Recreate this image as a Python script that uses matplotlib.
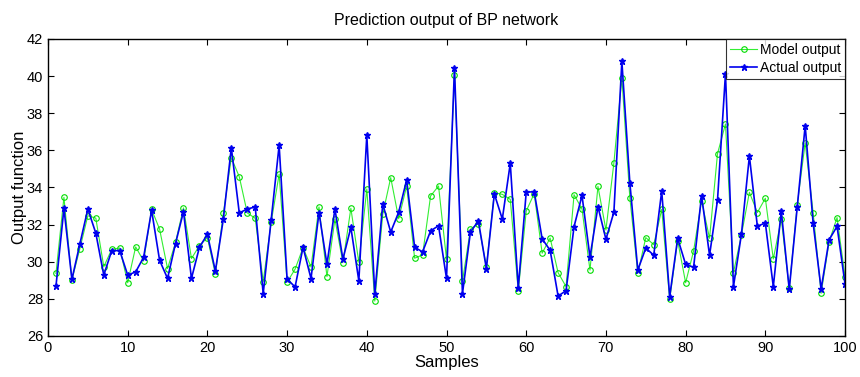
import numpy as np
import matplotlib.pyplot as plt

plt.rcParams['font.family'] = ['Liberation Sans', 'DejaVu Sans']

samples = np.arange(1, 101)

model_output = [
    29.37, 33.47, 29.02, 30.71, 32.48, 32.35, 29.73, 30.67, 30.74, 28.87,
    30.80, 30.04, 32.82, 31.76, 29.63, 31.04, 32.90, 30.17, 30.87, 31.30,
    29.33, 32.60, 35.60, 34.58, 32.63, 32.34, 28.93, 32.12, 34.72, 28.90,
    29.60, 30.76, 29.72, 32.95, 29.20, 32.30, 29.95, 32.88, 29.97, 33.92,
    27.88, 32.56, 34.53, 32.32, 34.08, 30.19, 30.37, 33.54, 34.08, 30.13,
    40.04, 28.95, 31.75, 32.05, 29.73, 33.72, 33.63, 33.36, 28.42, 32.73,
    33.67, 30.46, 31.28, 29.41, 28.66, 33.61, 32.84, 29.55, 34.06, 31.71,
    35.32, 39.91, 33.45, 29.37, 31.30, 30.92, 32.82, 27.97, 31.14, 28.87,
    30.58, 33.29, 31.26, 35.82, 37.42, 29.41, 31.44, 33.74, 32.65, 33.42,
    30.15, 32.30, 28.56, 33.06, 36.41, 32.63, 28.30, 31.07, 32.38, 29.18,
]

actual_output = [
    28.68, 32.87, 29.05, 30.96, 32.84, 31.54, 29.28, 30.60, 30.60, 29.28,
    29.45, 30.24, 32.77, 30.08, 29.10, 30.98, 32.70, 29.10, 30.78, 31.48,
    29.50, 32.30, 36.14, 32.63, 32.84, 32.95, 28.28, 32.25, 36.27, 29.07,
    28.64, 30.78, 29.09, 32.65, 29.86, 32.84, 30.13, 31.85, 28.97, 36.81,
    28.26, 33.11, 31.60, 32.67, 34.40, 30.78, 30.53, 31.66, 31.94, 29.10,
    40.44, 28.28, 31.60, 32.20, 29.63, 33.65, 32.30, 35.30, 28.60, 33.74,
    33.78, 31.23, 30.62, 28.15, 28.44, 31.89, 33.57, 30.24, 32.97, 31.21,
    32.67, 40.79, 34.26, 29.55, 30.74, 30.35, 33.81, 28.12, 31.26, 29.86,
    29.70, 33.56, 30.35, 33.32, 40.13, 28.66, 31.48, 35.69, 31.91, 32.09,
    28.66, 32.73, 28.51, 32.93, 37.33, 32.07, 28.53, 31.18, 31.91, 28.80,
]

fig = plt.figure(figsize=(8.6, 3.77), dpi=100)
ax = fig.add_axes([0.0558, 0.1088, 0.9268, 0.7878])

ax.plot(samples, model_output, '-o', color='#33ee33', lw=0.8, ms=4,
        mfc='none', mec='#00dd00', mew=0.8, label='Model output')
ax.plot(samples, actual_output, '-*', color='#0000ee', lw=1.2, ms=5,
        label='Actual output')

ax.set_xlim(0, 100)
ax.set_ylim(26, 42)
ax.set_xticks(np.arange(0, 101, 10))
ax.set_yticks(np.arange(26, 43, 2))
ax.tick_params(direction='in', top=True, right=True, labelsize=10.5, length=4)
for s in ax.spines.values():
    s.set_linewidth(1.0)

ax.set_title('Prediction output of BP network', fontsize=11.5, pad=10)
ax.set_xlabel('Samples', fontsize=12, labelpad=0)
ax.set_ylabel('Output function', fontsize=12, labelpad=0)

leg = ax.legend(loc='upper right', fontsize=10, frameon=True, fancybox=False,
                borderaxespad=0.0, handlelength=1.9, borderpad=0.3,
                labelspacing=0.3, handletextpad=0.2)
leg.get_frame().set_edgecolor('black')
leg.get_frame().set_linewidth(0.8)

fig.savefig('out.png', dpi=100)
